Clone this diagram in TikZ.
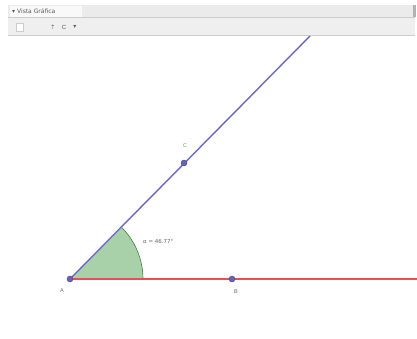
\documentclass[tikz,border=0pt]{standalone}
\usepackage{fontspec}
\setmainfont{Liberation Sans}
\begin{document}
\begin{tikzpicture}[x=1pt,y=-1pt,
  pt/.style={circle,fill=ptcol,draw=ptcol!70!black,inner sep=0pt,minimum size=6pt},
  lbl/.style={font=\fontsize{5.5}{6}\selectfont,text=gray!80!black,inner sep=0pt},
  hdr/.style={font=\fontsize{6}{7}\selectfont,text=gray!70!black,inner sep=0pt}]
\definecolor{ptcol}{RGB}{100,100,180}
\definecolor{linecol}{RGB}{140,140,225}
\definecolor{redcol}{RGB}{230,80,80}
\definecolor{angfill}{RGB}{160,205,160}
\definecolor{angdraw}{RGB}{60,130,60}
\definecolor{barcol}{RGB}{235,235,235}
\useasboundingbox (0,0) rectangle (417,338);
\fill[white] (0,0) rectangle (417,338);
% header bars
\fill[barcol] (8,5) rectangle (415,17);
\fill[white!95!gray] (10,6) rectangle (82,17);
\draw[gray!40] (8,17.5) -- (415,17.5);
\fill[barcol!80!white] (8,18) rectangle (415,35);
\draw[gray!40] (8,35.5) -- (415,35.5);
\fill[gray!60] (413,5) rectangle (416,17);
\node[hdr,anchor=west] (tab) at (12,11.5) {\fontspec{DejaVu Sans}▾ Vista Gráfica};
\node[draw=gray!40,fill=white,minimum width=7pt,minimum height=8pt,inner sep=0pt] (ico1) at (20,27) {};
\node[hdr] (ico2) at (53,27) {\fontspec{DejaVu Sans}⇡};
\node[hdr] (ico3) at (64,27) {C};
\node[hdr] (ico4) at (75,27) {\fontspec{DejaVu Sans}▾};
% geometry
\coordinate (A) at (70,279);
\coordinate (Bp) at (232,279);
\coordinate (Cp) at (184,163);
\coordinate (Rend) at (417,279);
\coordinate (Lend) at (310,36);
\fill[angfill,opacity=0.9] (A) -- (143,279) arc[start angle=0,end angle=-45.5,radius=73] -- cycle;
\draw[angdraw,line width=0.6pt] (143,279) arc[start angle=0,end angle=-45.5,radius=73];
\draw[redcol,line width=1.4pt] (A) -- (Rend);
\draw[linecol,line width=1.6pt] (A) -- (Lend);
\draw[ptcol!80!black,line width=0.35pt] (A) -- (Lend);
\node[pt] (a) at (A) {};
\node[pt] (b) at (Bp) {};
\node[pt] (c) at (Cp) {};
\node[lbl] (la) at (62,291) {A};
\node[lbl] (lb) at (236,292) {B};
\node[lbl,text=green!40!gray] (lc) at (185,146) {C};
\node[lbl,anchor=west] (alpha) at (143,241) {\fontspec{DejaVu Sans}α = 46.77°};
\end{tikzpicture}
\end{document}
